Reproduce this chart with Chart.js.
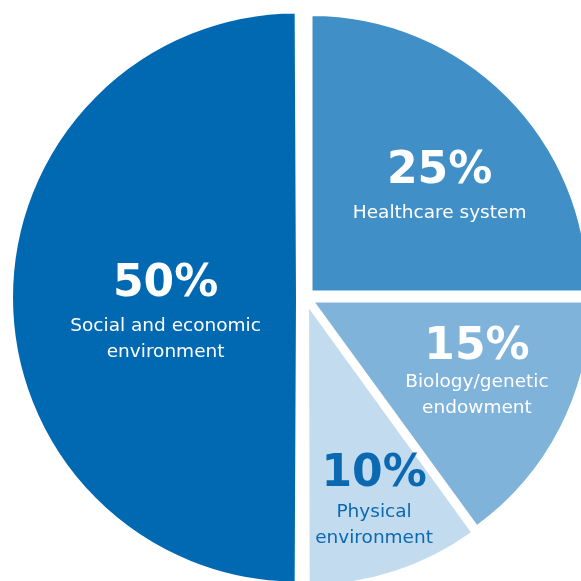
<!DOCTYPE html>
<html>
<head>
<meta charset="utf-8">
<script src="https://cdn.jsdelivr.net/npm/chart.js@4.4.1/dist/chart.umd.min.js"></script>
<style>
  html, body { margin: 0; padding: 0; background: #fff; overflow: hidden; }
  #wrap { width: 581px; height: 581px; }
</style>
</head>
<body>
<div id="wrap"><canvas id="pie" width="581" height="581"></canvas></div>
<script>
// Slices run clockwise from 12 o'clock
const labels = ['Healthcare system', 'Biology/genetic endowment', 'Physical environment', 'Social and economic environment'];
const shares = [25, 15, 10, 50];
const labelLines = [['Healthcare system'], ['Biology/genetic', 'endowment'], ['Physical', 'environment'], ['Social and economic', 'environment']];

const sliceColors = ['#418fc7', '#7fb3da', '#c2dbee', '#0169b2'];
const textColors = ['#ffffff', '#ffffff', '#0b69b1', '#ffffff'];
// label block anchor (baseline of the big number), in radius units from the pie centre
const labelSpots = [[0.485, -0.414], [0.62, 0.222], [0.248, 0.68], [-0.506, -0.004]];
// distance from the big number's baseline down to the first caption line
const captionDrop = [35, 28, 31, 35];

const pieLabels = {
  id: 'pieLabels',
  afterDatasetsDraw(chart) {
    const ctx = chart.ctx;
    const arcs = chart.getDatasetMeta(0).data;
    ctx.save();
    ctx.textAlign = 'center';
    ctx.textBaseline = 'alphabetic';
    arcs.forEach((arc, i) => {
      const x = arc.x + labelSpots[i][0] * arc.outerRadius;
      const y = arc.y + labelSpots[i][1] * arc.outerRadius;
      ctx.fillStyle = textColors[i];
      ctx.font = 'bold 44px "DejaVu Sans"';
      ctx.fillText(shares[i] + '%', x, y);
      ctx.font = '18.5px "DejaVu Sans"';
      labelLines[i].forEach((line, j) => ctx.fillText(line, x, y + captionDrop[i] + j * 26));
    });
    ctx.restore();
  }
};

new Chart(document.getElementById('pie'), {
  type: 'pie',
  data: {
    labels: labels,
    datasets: [{
      data: shares,
      backgroundColor: sliceColors,
      borderColor: '#ffffff',
      borderWidth: 2,
      offset: 34,
      hoverOffset: 0,
      clip: false
    }]
  },
  options: {
    responsive: false,
    animation: false,
    events: [],
    radius: 276.5,
    layout: { padding: { left: 30, top: 14, right: 0, bottom: 0 } },
    plugins: {
      legend: { display: false },
      tooltip: { enabled: false }
    }
  },
  plugins: [pieLabels]
});
</script>
</body>
</html>
